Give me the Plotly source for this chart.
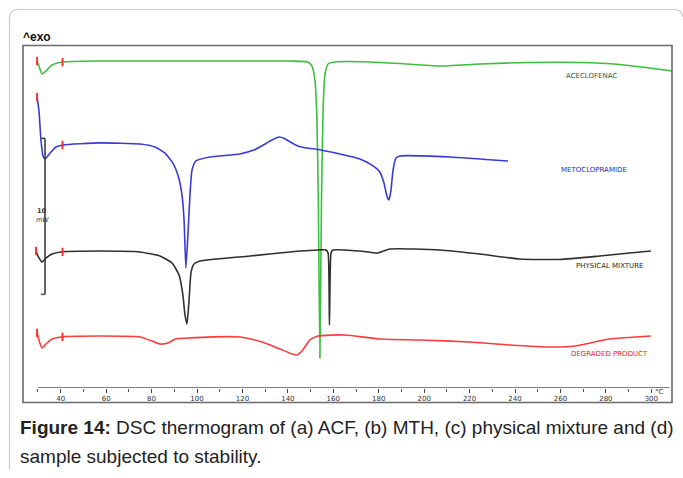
import numpy as np
import plotly.graph_objects as go

# DSC thermograms: temperature (°C) and stacked heat flow (mW, curves offset vertically)
acf_T = [29.6, 30.4, 31.8, 33.5, 36.2, 41.0, 57.3, 101.3, 140.9, 148.8, 150.6, 151.9, 152.8,
         153.4, 154.1, 154.8, 155.5, 156.3, 157.7, 160.7, 176.1, 189.3, 206.9, 224.5, 246.5,
         268.5, 286.1, 299.3, 309.0]
acf_mW = [20.96, 20.64, 20.13, 20.32, 20.71, 20.90, 20.96, 20.96, 20.96, 20.90, 20.64, 19.74, 17.18,
          12.05, 1.92, 12.05, 17.82, 20.06, 20.77, 20.90, 20.90, 20.80, 20.64, 20.77, 20.87,
          20.87, 20.74, 20.51, 20.32]

mth_T = [29.6, 30.4, 31.3, 32.2, 33.1, 35.3, 37.9, 41.0, 57.3, 74.9, 81.5, 85.9, 89.4, 91.6,
         93.4, 94.3, 95.1, 96.0, 96.9, 97.8, 99.5, 105.7, 118.9, 125.0, 130.0, 133.0, 136.1,
         138.5, 141.0, 144.4, 148.0, 151.9, 162.9, 171.7, 177.0, 180.5, 182.3, 183.6, 184.5,
         185.4, 186.3, 187.6, 189.3, 211.3, 236.9]
mth_mW = [18.65, 17.82, 15.90, 14.87, 14.68, 15.06, 15.45, 15.58, 15.71, 15.64, 15.45, 15.06, 14.42, 13.65,
          12.37, 10.77, 7.69, 9.81, 12.37, 13.97, 14.55, 14.81, 15.00, 15.25, 15.64, 15.90, 16.09,
          15.99, 15.77, 15.51, 15.38, 15.32, 15.00, 14.68, 14.29, 13.85, 13.14, 12.31, 12.05,
          12.69, 13.97, 14.74, 14.87, 14.81, 14.55]

pm_T = [29.1, 30.0, 31.8, 33.5, 36.2, 40.1, 57.3, 74.9, 83.7, 89.0, 92.1, 93.8, 94.7, 95.6,
        96.5, 97.4, 98.7, 101.3, 123.3, 145.3, 153.2, 156.8, 157.7, 158.3, 159.0, 159.8,
        171.7, 179.6, 184.9, 206.9, 224.5, 242.1, 259.7, 277.3, 290.5, 299.8]
pm_mW = [8.78, 8.46, 8.08, 8.33, 8.59, 8.72, 8.78, 8.72, 8.46, 8.01, 7.24, 5.96, 4.68, 4.10,
         5.64, 7.44, 7.95, 8.14, 8.46, 8.78, 8.85, 8.85, 8.65, 4.04, 8.65, 8.85,
         8.78, 8.65, 8.91, 8.85, 8.59, 8.27, 8.24, 8.46, 8.65, 8.78]

deg_T = [29.6, 30.4, 31.8, 33.5, 36.2, 40.1, 57.3, 74.9, 80.2, 83.7, 87.2, 90.4, 96.9, 118.9,
         128.6, 136.5, 141.8, 144.0, 146.6, 149.7, 153.2, 165.1, 180.5, 198.1, 220.1, 237.7,
         255.3, 266.3, 281.7, 299.8]
deg_mW = [3.53, 3.08, 2.56, 2.82, 3.14, 3.27, 3.33, 3.27, 3.01, 2.82, 2.88, 3.14, 3.21, 3.27,
          2.95, 2.50, 2.18, 2.12, 2.44, 3.08, 3.33, 3.40, 3.14, 3.08, 2.95, 2.76,
          2.63, 2.69, 3.14, 3.33]

curve_names = ["ACECLOFENAC", "METOCLOPRAMIDE", "PHYSICAL MIXTURE", "DEGRADED PRODUCT"]
curve_colors = ["#3cbf3c", "#3a3ad6", "#303030", "#ff3b3b"]
label_colors = ["#1d5e3a", "#2a2ac0", "#1e1e1e", "#ee2222"]
label_T = [273.8, 274.7, 281.8, 281.8]
label_mW = [20.0, 13.97, 7.82, 2.18]

tick_vals = list(range(40, 301, 20))
scale_mW = 10          # height of the heat-flow scale bar
scale_base = 6.0       # lower end of the scale bar (mW)
scale_T = 33.1         # temperature position of the scale bar
marker_T = 40.8        # second evaluation marker on each curve

# Layout geometry (pixels)
W, H = 683, 478
L, R, T, B = 23, 11, 45, 90
PW, PH = W - L - R, H - T - B
y_range = [0, PH / 15.6]
x_range = [23.4, 309.1]


def px(x):
    return (x - L) / PW


def py(y):
    return (H - B - y) / PH


fig = go.Figure()

series = [(acf_T, acf_mW), (mth_T, mth_mW), (pm_T, pm_mW), (deg_T, deg_mW)]
for (tx, hy), name, col in zip(series, curve_names, curve_colors):
    fig.add_trace(go.Scatter(x=tx, y=hy, mode="lines", name=name,
                             line=dict(color=col, width=1.6, shape="spline", smoothing=0.5),
                             hoverinfo="skip"))
    # red evaluation limits at the curve start and just after 40 °C
    fig.add_trace(go.Scatter(x=[tx[0], marker_T], y=[hy[0], float(np.interp(marker_T, tx, hy))],
                             mode="markers",
                             marker=dict(symbol="line-ns", size=6, line=dict(color="#ff3030", width=2)),
                             hoverinfo="skip"))

for name, col, lt, lm in zip(curve_names, label_colors, label_T, label_mW):
    fig.add_annotation(x=lt, y=lm, text=name, showarrow=False,
                       font=dict(family="DejaVu Sans", size=7, color=col))

shapes = []
# heat-flow scale bar
shapes.append(dict(type="line", xref="x", yref="y", x0=scale_T, x1=scale_T,
                   y0=scale_base, y1=scale_base + scale_mW, line=dict(color="#333", width=1.5)))
shapes.append(dict(type="line", xref="x", yref="y", x0=scale_T - 1.6, x1=scale_T,
                   y0=scale_base + scale_mW, y1=scale_base + scale_mW, line=dict(color="#333", width=1.5)))
shapes.append(dict(type="line", xref="x", yref="y", x0=scale_T - 1.8, x1=scale_T,
                   y0=scale_base, y1=scale_base, line=dict(color="#555", width=1.5)))
# temperature axis line
shapes.append(dict(type="line", xref="x", yref="y", x0=30, x1=308, y0=0, y1=0,
                   line=dict(color="#555", width=1.3)))
# chart frame
shapes.append(dict(type="rect", xref="paper", yref="paper", x0=px(23), x1=px(672),
                   y0=py(402.5), y1=py(45.5), line=dict(color="#6a6a6a", width=1.6)))
# card outline
card = (f"M {px(9.5)},{py(470)} L {px(9.5)},{py(18)} Q {px(9.5)},{py(9.5)} {px(18)},{py(9.5)} "
        f"L {px(674)},{py(9.5)} Q {px(682)},{py(9.5)} {px(682.5)},{py(17)}")
shapes.append(dict(type="path", xref="paper", yref="paper", path=card,
                   line=dict(color="#c8c8c8", width=1.2)))

fig.add_annotation(xref="paper", yref="paper", x=px(21), y=py(37.5), text="<b>^exo</b>",
                   showarrow=False, xanchor="left", yanchor="middle",
                   font=dict(family="Liberation Sans", size=12, color="#111"))
fig.add_annotation(xref="paper", yref="paper", x=px(35), y=py(211.5), text="<b>10</b>",
                   showarrow=False, font=dict(family="DejaVu Sans", size=6.5, color="#333"))
fig.add_annotation(xref="paper", yref="paper", x=px(34), y=py(219.5), text="<i>mW</i>",
                   showarrow=False, font=dict(family="DejaVu Sans", size=6.5, color="#333"))
fig.add_annotation(xref="paper", yref="paper", x=px(666), y=py(397.5), text="°C",
                   showarrow=False, font=dict(family="DejaVu Sans", size=7, color="#333"))

fig.add_annotation(xref="paper", yref="paper", x=px(18), y=py(427), xanchor="left", yanchor="middle",
                   text="<b>Figure 14:</b> DSC thermogram of (a) ACF, (b) MTH, (c) physical mixture and (d)",
                   showarrow=False, font=dict(family="Liberation Sans", size=19, color="#222"))
fig.add_annotation(xref="paper", yref="paper", x=px(18), y=py(456), xanchor="left", yanchor="middle",
                   text="sample subjected to stability.",
                   showarrow=False, font=dict(family="Liberation Sans", size=19, color="#222"))

fig.update_layout(
    width=W, height=H, margin=dict(l=L, r=R, t=T, b=B),
    paper_bgcolor="white", plot_bgcolor="white", showlegend=False, shapes=shapes,
    xaxis=dict(range=x_range, tickvals=tick_vals, ticks="outside", ticklen=4, tickwidth=1,
               tickcolor="#444", showline=False, showgrid=False, zeroline=False,
               tickfont=dict(family="DejaVu Sans", size=7, color="#333"),
               minor=dict(tickvals=list(range(30, 301, 20)), ticks="outside", ticklen=3,
                          tickcolor="#555")),
    yaxis=dict(range=y_range, visible=False),
)

fig.write_html("out.html")
